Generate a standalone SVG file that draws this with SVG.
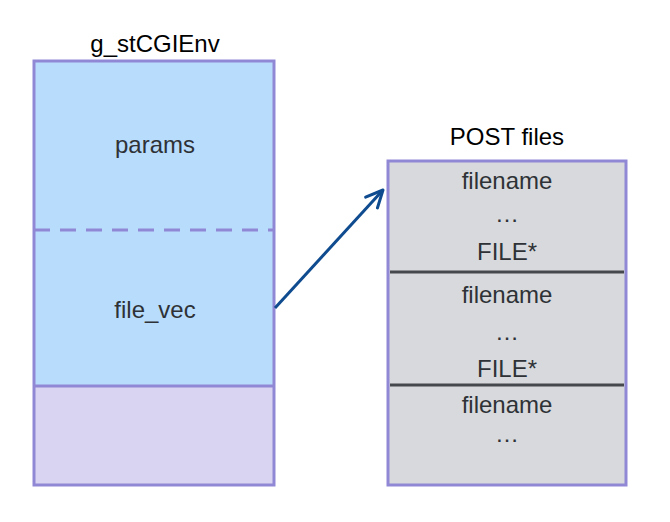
<svg xmlns="http://www.w3.org/2000/svg" width="670" height="522" viewBox="0 0 670 522">
<defs>
<style>
.t{font-family:"Liberation Sans",Arial,sans-serif;font-size:24px;text-anchor:middle;fill:#2e3236}
.h{font-family:"Liberation Sans",Arial,sans-serif;font-size:24px;text-anchor:middle;fill:#000}
.box{stroke:#9188d5;stroke-width:3}
.div{stroke:#45484d;stroke-width:3}
</style>
<marker id="ah" viewBox="0 0 24 24" refX="21" refY="12" markerWidth="24" markerHeight="24" markerUnits="userSpaceOnUse" orient="auto">
<path d="M4,4 L21,12 L4,20" fill="none" stroke="#0f4b8f" stroke-width="3" stroke-linecap="round" stroke-linejoin="round"/>
</marker>
</defs>
<rect width="670" height="522" fill="#fff"/>
<g id="env">
<text class="h" x="155" y="52">g_stCGIEnv</text>
<rect x="34" y="61" width="240" height="325" fill="#b8dcfc"/>
<rect x="34" y="386" width="240" height="99" fill="#d9d4f1"/>
<line class="box" x1="34" y1="230" x2="274" y2="230" stroke-dasharray="16,10"/>
<line class="box" x1="34" y1="386" x2="274" y2="386"/>
<rect class="box" x="34" y="61" width="240" height="424" fill="none"/>
<text class="t" x="155" y="153">params</text>
<text class="t" x="155" y="318">file_vec</text>
</g>
<g id="post">
<text class="h" x="507" y="145">POST files</text>
<rect class="box" x="388" y="161" width="238" height="324" fill="#d8d9dc"/>
<line class="div" x1="390" y1="272" x2="624" y2="272"/>
<line class="div" x1="390" y1="385" x2="624" y2="385"/>
<text class="t" x="507" y="189">filename</text>
<text class="t" x="507" y="222">…</text>
<text class="t" x="507" y="260">FILE*</text>
<text class="t" x="507" y="303">filename</text>
<text class="t" x="507" y="340">…</text>
<text class="t" x="507" y="377">FILE*</text>
<text class="t" x="507" y="413">filename</text>
<text class="t" x="507" y="442">…</text>
</g>
<g id="connectors">
<line x1="275" y1="308" x2="383" y2="190" stroke="#0f4b8f" stroke-width="3" marker-end="url(#ah)"/>
</g>
</svg>
